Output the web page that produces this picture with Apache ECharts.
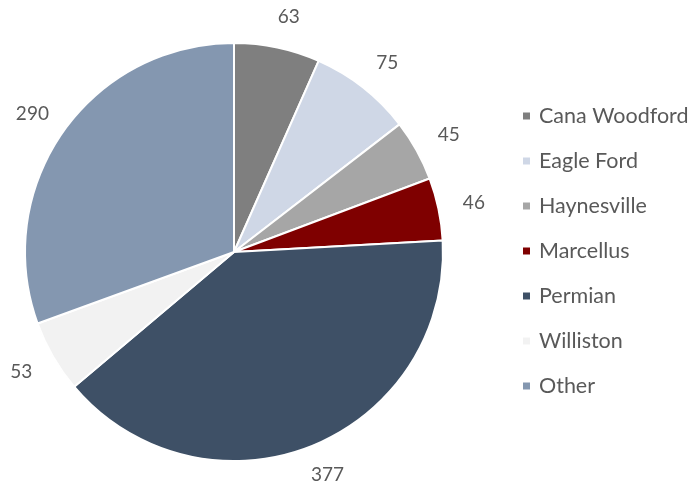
<!DOCTYPE html>
<html>
<head>
<meta charset="utf-8">
<script src="https://cdn.jsdelivr.net/npm/echarts@6/dist/echarts.min.js"></script>
<style>
  html, body { margin: 0; padding: 0; background: #ffffff; }
  #chart { width: 692px; height: 487px; }
</style>
</head>
<body>
<div id="chart"></div>
<script>
// Plays and their counts, drawn clockwise from 12 o'clock
const plays = ['Cana Woodford', 'Eagle Ford', 'Haynesville', 'Marcellus', 'Permian', 'Williston', 'Other'];
const counts = [63, 75, 45, 46, 377, 53, 290];
const sliceColors = ['#7f7f7f', '#cfd7e6', '#a6a6a6', '#7f0000', '#3e5066', '#f2f2f2', '#8497b0'];

const textFont = 'Lato, "Open Sans", sans-serif';
const textColor = '#595959';

const chart = echarts.init(document.getElementById('chart'));

chart.setOption({
  backgroundColor: '#ffffff',
  animation: false,
  color: sliceColors,
  legend: {
    orient: 'vertical',
    left: 521,
    top: 105,
    padding: 0,
    icon: 'rect',
    itemWidth: 9,
    itemHeight: 9,
    itemGap: 23,
    textStyle: {
      fontFamily: textFont,
      fontSize: 21.5,
      color: textColor,
      lineHeight: 22,
      padding: [0, 0, 0, 3]
    },
    data: plays
  },
  series: [{
    type: 'pie',
    center: [234, 252],
    radius: 209,
    startAngle: 90,
    clockwise: true,
    avoidLabelOverlap: false,
    itemStyle: { borderColor: '#ffffff', borderWidth: 2 },
    label: {
      show: true,
      position: 'outside',
      formatter: '{c}',
      fontFamily: textFont,
      fontSize: 19,
      color: textColor
    },
    labelLine: { show: false, length: 31, length2: 0 },
    labelLayout: { align: 'center', verticalAlign: 'middle' },
    emphasis: { disabled: true },
    data: plays.map((name, i) => ({ name: name, value: counts[i] }))
  }]
});
</script>
</body>
</html>
